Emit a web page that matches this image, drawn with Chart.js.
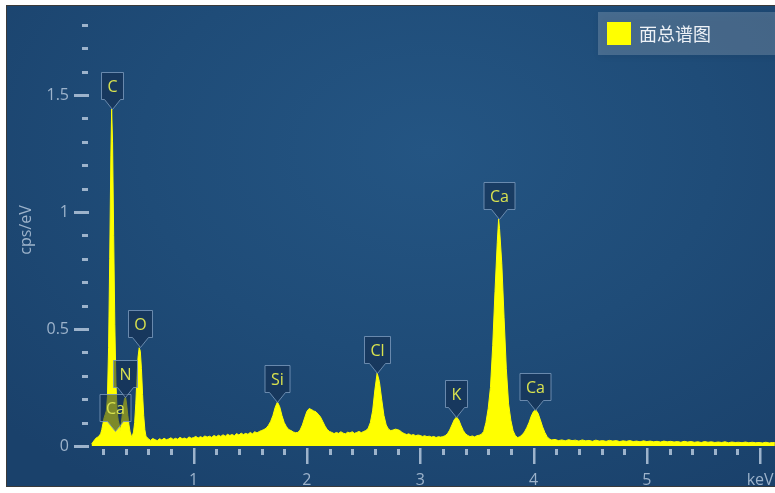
<!DOCTYPE html>
<html>
<head>
<meta charset="utf-8">
<title>面总谱图</title>
<script src="https://cdn.jsdelivr.net/npm/chart.js@4.4.1/dist/chart.umd.min.js"></script>
<style>
  html, body { margin: 0; padding: 0; background: #fff; }
  #wrap { position: relative; width: 775px; height: 493px; overflow: hidden; }
  #plotBg {
    position: absolute; left: 6px; top: 5px; width: 769px; height: 482px;
    box-sizing: border-box; border: 1px solid #3a3a3a; border-right: none;
    background: radial-gradient(ellipse 75% 85% at 55% 30%, #245583 0%, #1f4c78 50%, #1a416b 100%);
  }
  #spectrum { position: absolute; left: 0; top: 0; }
</style>
</head>
<body>
<div id="wrap">
  <div id="plotBg"></div>
  <canvas id="spectrum" width="775" height="493"></canvas>
</div>
<script>
// spectrum: energy (keV) and count rate (cps/eV)
const energyKeV = [
  0.10, 0.12, 0.14, 0.16, 0.18, 0.19, 0.20, 0.21, 0.22, 0.23, 0.24, 0.25, 0.26, 0.27, 0.277,
  0.285, 0.295, 0.305, 0.315, 0.325, 0.335, 0.345, 0.352, 0.36, 0.37, 0.38, 0.39, 0.40, 0.41,
  0.42, 0.43, 0.44, 0.455, 0.47, 0.48, 0.49, 0.50, 0.51, 0.52, 0.53, 0.54, 0.55, 0.56, 0.57,
  0.58, 0.60, 0.62, 0.64,
  0.66, 0.68, 0.70, 0.72, 0.74, 0.76, 0.78, 0.80, 0.82, 0.84, 0.86, 0.88, 0.90, 0.92, 0.94,
  0.96, 0.98, 1.00, 1.02, 1.04, 1.06, 1.08, 1.10, 1.12, 1.14, 1.16, 1.18, 1.20, 1.22, 1.24,
  1.26, 1.28, 1.30, 1.32, 1.34, 1.36, 1.38, 1.40, 1.42, 1.44, 1.46, 1.48, 1.50, 1.52, 1.54,
  1.56, 1.58, 1.60,
  1.62, 1.64, 1.66, 1.68, 1.70, 1.72, 1.74, 1.76, 1.78, 1.80, 1.82, 1.84, 1.86, 1.88, 1.90,
  1.92, 1.94, 1.96, 1.98, 2.00, 2.02, 2.04, 2.06, 2.08, 2.10, 2.12, 2.14, 2.16, 2.18, 2.20, 2.22,
  2.24, 2.26, 2.28, 2.30, 2.32, 2.34, 2.36, 2.38, 2.40, 2.42, 2.44, 2.46, 2.48, 2.50,
  2.52, 2.54, 2.56, 2.58, 2.60, 2.62, 2.64, 2.66, 2.68, 2.70, 2.72, 2.74, 2.76, 2.78, 2.80,
  2.82, 2.84, 2.86, 2.88, 2.90, 2.92, 2.94, 2.96, 2.98, 3.00, 3.02, 3.04, 3.06, 3.08, 3.10,
  3.12, 3.14, 3.16, 3.18, 3.20,
  3.22, 3.24, 3.26, 3.28, 3.30, 3.32, 3.34, 3.36, 3.38, 3.40, 3.42, 3.44, 3.46, 3.48, 3.50, 3.52,
  3.54, 3.56, 3.58, 3.60, 3.62, 3.64, 3.66, 3.68, 3.692, 3.70, 3.72, 3.74, 3.76, 3.78, 3.80,
  3.82, 3.84, 3.86, 3.88, 3.90,
  3.92, 3.94, 3.96, 3.98, 4.00, 4.02, 4.04, 4.06, 4.08, 4.10, 4.12, 4.14, 4.16,
  4.19, 4.22, 4.25, 4.28, 4.31, 4.34, 4.37, 4.40, 4.43, 4.46, 4.49, 4.52, 4.55, 4.58, 4.61,
  4.64, 4.67, 4.70, 4.73, 4.76, 4.79, 4.82, 4.85, 4.88, 4.91, 4.94, 4.97, 5.00, 5.03, 5.06,
  5.09, 5.12, 5.15, 5.18, 5.21, 5.24, 5.27, 5.30, 5.33, 5.36, 5.39, 5.42, 5.45, 5.48, 5.51,
  5.54, 5.57, 5.60, 5.63, 5.66, 5.69, 5.72, 5.75, 5.78, 5.81, 5.84, 5.87, 5.90, 5.93, 5.96,
  5.99, 6.02, 6.05, 6.08, 6.11, 6.13
];
const countsCps = [
  0.008, 0.022, 0.034, 0.040, 0.052, 0.070, 0.095, 0.120, 0.135, 0.150, 0.210, 0.420, 0.800, 1.240, 1.440,
  1.300, 0.900, 0.520, 0.270, 0.150, 0.110, 0.090, 0.065, 0.085, 0.130, 0.170, 0.200, 0.210, 0.175,
  0.130, 0.090, 0.060, 0.036, 0.060, 0.100, 0.180, 0.290, 0.380, 0.420, 0.405, 0.330, 0.220, 0.130, 0.070,
  0.042, 0.031, 0.024, 0.032,
  0.027, 0.023, 0.031, 0.026, 0.033, 0.027, 0.030, 0.035, 0.028, 0.033, 0.029, 0.037, 0.031, 0.034, 0.030,
  0.039, 0.033, 0.036, 0.041, 0.034, 0.040, 0.036, 0.043, 0.038, 0.042, 0.037, 0.045, 0.040, 0.046, 0.041,
  0.048, 0.042, 0.050, 0.045, 0.049, 0.044, 0.053, 0.047, 0.055, 0.049, 0.054, 0.050, 0.058, 0.052, 0.061,
  0.056, 0.062, 0.066,
  0.070, 0.076, 0.088, 0.105, 0.130, 0.165, 0.188, 0.168, 0.130, 0.100, 0.082, 0.070, 0.066, 0.060, 0.057,
  0.058, 0.068, 0.090, 0.120, 0.148, 0.160, 0.156, 0.150, 0.146, 0.136, 0.124, 0.105, 0.085, 0.070, 0.062, 0.058,
  0.053, 0.058, 0.054, 0.061, 0.055, 0.052, 0.059, 0.056, 0.061, 0.054, 0.058, 0.062, 0.057, 0.062,
  0.066, 0.075, 0.100, 0.150, 0.240, 0.312, 0.275, 0.200, 0.130, 0.090, 0.072, 0.066, 0.068, 0.072, 0.070,
  0.066, 0.058, 0.053, 0.049, 0.052, 0.046, 0.049, 0.044, 0.047, 0.045, 0.041, 0.044, 0.040, 0.042, 0.038,
  0.041, 0.036, 0.040, 0.038, 0.040,
  0.044, 0.052, 0.068, 0.090, 0.112, 0.124, 0.112, 0.088, 0.066, 0.052, 0.045, 0.040, 0.043, 0.039, 0.044, 0.046,
  0.050, 0.062, 0.100, 0.160, 0.250, 0.430, 0.660, 0.870, 0.970, 0.930, 0.780, 0.550, 0.330, 0.180, 0.110,
  0.065, 0.044, 0.036, 0.040, 0.048,
  0.060, 0.078, 0.100, 0.128, 0.148, 0.154, 0.140, 0.112, 0.082, 0.058, 0.040, 0.030, 0.026,
  0.028, 0.023, 0.026, 0.022, 0.027, 0.023, 0.025, 0.021, 0.026, 0.022, 0.024, 0.020, 0.025, 0.021, 0.023,
  0.020, 0.024, 0.021, 0.023, 0.019, 0.022, 0.020, 0.023, 0.019, 0.021, 0.018, 0.022, 0.019, 0.021, 0.018,
  0.020, 0.017, 0.021, 0.018, 0.020, 0.017, 0.019, 0.016, 0.020, 0.017, 0.019, 0.016, 0.018, 0.015, 0.019,
  0.016, 0.018, 0.015, 0.017, 0.015, 0.018, 0.014, 0.017, 0.015, 0.016, 0.014, 0.017, 0.014, 0.016, 0.014,
  0.015, 0.013, 0.016, 0.013, 0.015, 0.014
];

// element tags: name, line energy (keV), height of the tag tip (cps/eV)
const peakNames    = ['Ca',  'C',   'N',   'O',   'Si',  'Cl',  'K',   'Ca',  'Ca'];
const peakEnergies = [0.31,  0.277, 0.392, 0.525, 1.740, 2.622, 3.314, 3.692, 4.013];
const peakHeights  = [0.064, 1.44,  0.21,  0.423, 0.188, 0.312, 0.124, 0.97,  0.154];

const seriesName = '面总谱图';
const yTickValues = [0, 0.5, 1, 1.5];
const yTickLabels = ['0', '0.5', '1', '1.5'];
const xTickValues = [1, 2, 3, 4, 5, 6];
const xTickLabels = ['1', '2', '3', '4', '5', 'keV'];
const yTitle = 'cps/eV';

const tickColor = '#9db3cb';

const axisDecor = {
  id: 'axisDecor',
  afterDraw(chart) {
    const { ctx, chartArea, scales: { x, y } } = chart;
    ctx.save();
    ctx.fillStyle = tickColor;

    // y dashes every 0.1, longer at labelled values
    for (let i = 0; i <= 18; i++) {
      const v = i / 10;
      const py = Math.round(y.getPixelForValue(v));
      const major = yTickValues.some(t => Math.abs(t - v) < 1e-6);
      if (major) ctx.fillRect(chartArea.left - 16, py - 1, 15, 3);
      else ctx.fillRect(chartArea.left - 8, py - 1, 6, 3);
    }
    // x dashes every 0.2 keV
    for (let i = 1; i <= 30; i++) {
      const v = i / 5;
      const px = Math.round(x.getPixelForValue(v));
      const major = xTickValues.some(t => Math.abs(t - v) < 1e-6);
      if (major) ctx.fillRect(px - 1, chartArea.bottom + 2, 2.5, 16);
      else ctx.fillRect(px - 1, chartArea.bottom + 3, 3, 6);
    }

    ctx.font = '16px "Open Sans"';
    ctx.textBaseline = 'middle';
    ctx.textAlign = 'right';
    yTickValues.forEach((v, i) => {
      ctx.fillText(yTickLabels[i], chartArea.left - 21, y.getPixelForValue(v));
    });
    ctx.textAlign = 'center';
    xTickValues.forEach((v, i) => {
      ctx.fillText(xTickLabels[i], x.getPixelForValue(v), chartArea.bottom + 34);
    });

    ctx.translate(26, 230);
    ctx.rotate(-Math.PI / 2);
    ctx.fillText(yTitle, 0, 0);
    ctx.restore();
  }
};

const peakTags = {
  id: 'peakTags',
  afterDatasetsDraw(chart) {
    const { ctx, scales: { x, y } } = chart;
    ctx.save();
    ctx.font = '16px "Open Sans"';
    ctx.textAlign = 'center';
    ctx.textBaseline = 'middle';
    peakNames.forEach((name, i) => {
      const tipX = Math.round(x.getPixelForValue(peakEnergies[i])) + 0.5;
      const tipY = Math.round(y.getPixelForValue(peakHeights[i])) + 0.5;
      const w = Math.max(22, Math.round(ctx.measureText(name).width) + 12);
      const h = 27, notch = 10;
      const left = tipX - w / 2, right = tipX + w / 2;
      const bottom = tipY - notch, top = bottom - h;

      ctx.beginPath();
      ctx.moveTo(left, top);
      ctx.lineTo(right, top);
      ctx.lineTo(right, bottom);
      ctx.lineTo(tipX + 8, bottom);
      ctx.lineTo(tipX, tipY);
      ctx.lineTo(tipX - 8, bottom);
      ctx.lineTo(left, bottom);
      ctx.closePath();
      ctx.fillStyle = 'rgba(18, 42, 74, 0.55)';
      ctx.fill();
      ctx.lineWidth = 1;
      ctx.strokeStyle = 'rgba(120, 150, 185, 0.85)';
      ctx.stroke();

      ctx.fillStyle = '#d9e24f';
      ctx.fillText(name, tipX, top + h / 2 + 1);
    });
    ctx.restore();
  }
};

const legendBox = {
  id: 'legendBox',
  afterDraw(chart) {
    const { ctx } = chart;
    ctx.save();
    ctx.shadowColor = 'rgba(0, 0, 0, 0.35)';
    ctx.shadowBlur = 6;
    ctx.shadowOffsetY = 2;
    ctx.fillStyle = 'rgba(255, 255, 255, 0.18)';
    ctx.fillRect(598, 12, 177, 43);
    ctx.shadowColor = 'transparent';

    const ds = chart.data.datasets[0];
    ctx.fillStyle = ds.backgroundColor;
    ctx.fillRect(607, 22, 24, 23);
    ctx.fillStyle = '#eef2f7';
    ctx.font = '18px "Noto Sans CJK SC"';
    ctx.textBaseline = 'middle';
    ctx.textAlign = 'left';
    ctx.fillText(ds.label, 639, 34);
    ctx.restore();
  }
};

const ctx = document.getElementById('spectrum').getContext('2d');
const spectrumPoints = energyKeV.map((e, i) => ({ x: e, y: countsCps[i] }));

new Chart(ctx, {
  type: 'line',
  data: {
    datasets: [{
      label: seriesName,
      data: spectrumPoints,
      borderColor: '#ffff00',
      backgroundColor: '#ffff00',
      borderWidth: 1,
      pointRadius: 0,
      fill: 'origin',
      tension: 0
    }]
  },
  options: {
    responsive: false,
    animation: false,
    events: [],
    layout: { padding: { left: 90, right: 0, top: 5, bottom: 47 } },
    plugins: { legend: { display: false }, tooltip: { enabled: false } },
    scales: {
      x: { type: 'linear', display: false, min: 0.086, max: 6.131 },
      y: { display: false, min: 0, max: 1.885 }
    }
  },
  plugins: [axisDecor, peakTags, legendBox]
});
</script>
</body>
</html>
